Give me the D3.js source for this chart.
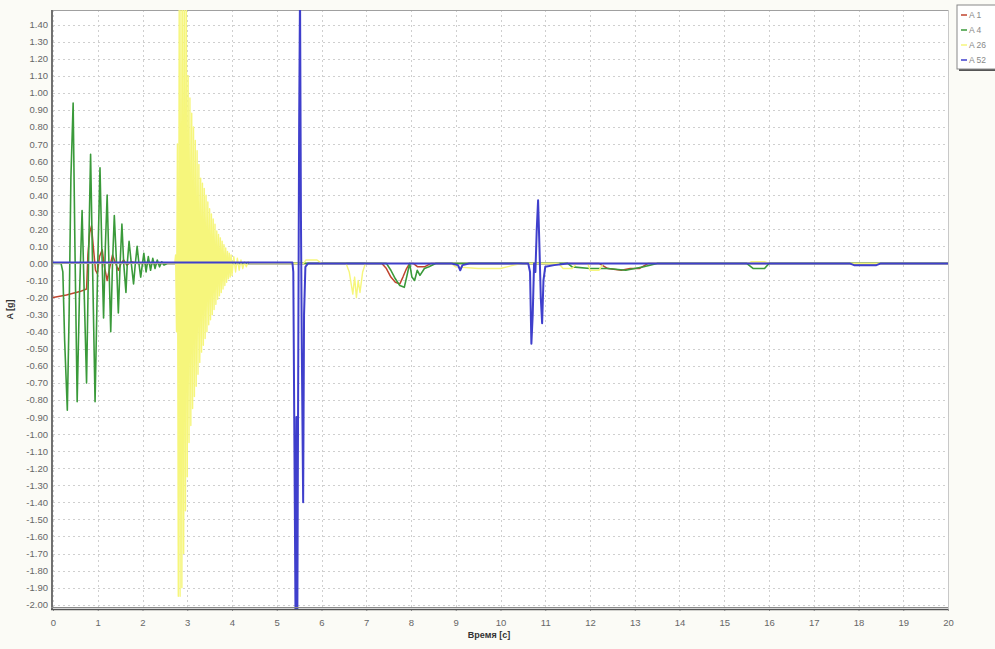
<!DOCTYPE html>
<html><head><meta charset="utf-8">
<script src="https://cdn.jsdelivr.net/npm/d3@7"></script>
<style>body{margin:0;background:#fbfbf6;} svg{display:block;font-family:"Liberation Sans",Arial,sans-serif;}</style>
</head><body><svg id="c" width="995" height="649"></svg>
<script>
// ---- data (time [s], acceleration [g]) ----
const seriesNames = ["A 1", "A 4", "A 26", "A 52"];
const xTicks = [0,1,2,3,4,5,6,7,8,9,10,11,12,13,14,15,16,17,18,19,20];
const yTicks = [1.4,1.3,1.2,1.1,1.0,0.9,0.8,0.7,0.6,0.5,0.4,0.3,0.2,0.1,0.0,-0.1,-0.2,-0.3,-0.4,-0.5,-0.6,-0.7,-0.8,-0.9,-1.0,-1.1,-1.2,-1.3,-1.4,-1.5,-1.6,-1.7,-1.8,-1.9,-2.0];

const a1 = [[0,-0.20],[0.3,-0.185],[0.6,-0.165],[0.75,-0.15],[0.78,0.05],[0.82,0.18],[0.86,0.22],[0.90,0.10],[0.95,-0.04],[0.99,-0.06],[1.04,0.04],[1.10,0.08],[1.15,-0.02],[1.21,-0.10],[1.27,-0.02],[1.33,0.05],[1.40,0.0],[1.46,-0.04],[1.52,0.0],[1.58,0.02],[1.65,-0.01],[1.75,0.01],[1.9,0],[7.35,0],[7.45,-0.03],[7.55,-0.08],[7.65,-0.11],[7.75,-0.12],[7.82,-0.08],[7.90,-0.03],[7.97,0.0],[8.05,0.0],[8.15,-0.02],[8.3,-0.02],[8.45,0],[12.2,0],[12.4,-0.03],[12.7,-0.04],[12.9,-0.03],[13.1,-0.03],[13.3,0],[20,0]];

const a4 = [[0,0],[0.18,0],[0.22,-0.05],[0.26,-0.45],[0.32,-0.86],[0.36,-0.3],[0.40,0.5],[0.45,0.94],[0.49,0.1],[0.54,-0.81],[0.59,-0.2],[0.65,0.31],[0.70,-0.2],[0.75,-0.70],[0.80,0.1],[0.84,0.64],[0.89,-0.1],[0.94,-0.81],[1.00,0.0],[1.05,0.56],[1.09,0.1],[1.13,-0.32],[1.17,0.1],[1.21,0.40],[1.25,0.0],[1.29,-0.40],[1.33,0.0],[1.37,0.28],[1.42,0.0],[1.46,-0.29],[1.50,0.0],[1.54,0.23],[1.58,0.0],[1.63,-0.17],[1.66,0.0],[1.70,0.13],[1.75,0.0],[1.80,-0.12],[1.84,0.0],[1.88,0.10],[1.92,0.0],[1.96,-0.08],[2.00,0.0],[2.03,0.06],[2.08,-0.05],[2.13,0.04],[2.18,-0.04],[2.23,0.03],[2.28,-0.03],[2.33,0.02],[2.38,-0.02],[2.43,0.01],[2.48,-0.01],[2.55,0.0],[7.45,0],[7.55,-0.04],[7.65,-0.09],[7.75,-0.13],[7.85,-0.14],[7.92,-0.06],[7.97,0.0],[8.02,-0.08],[8.08,-0.10],[8.14,-0.04],[8.2,-0.07],[8.3,-0.03],[8.4,-0.02],[8.55,0],[11.5,0],[11.6,-0.02],[12.0,-0.03],[12.4,-0.03],[12.8,-0.04],[13.2,-0.02],[13.5,0],[15.5,0],[15.65,-0.03],[15.9,-0.03],[16.0,0],[20,0]];

const a26 = [[0,0],[2.72,0],[2.74,0.05],[2.76,-0.4],[2.78,0.7],[2.80,-1.95],[2.82,1.55],[2.84,-1.95],[2.86,1.55],[2.88,-1.9],[2.90,1.55],[2.92,-1.7],[2.94,1.55],[2.96,-1.45],[2.98,1.5],[3.00,-1.25],[3.02,1.1],[3.04,-1.05],[3.06,0.97],[3.08,-0.95],[3.10,0.88],[3.12,-0.85],[3.14,0.80],[3.16,-0.78],[3.18,0.72],[3.20,-0.72],[3.22,0.66],[3.24,-0.65],[3.26,0.58],[3.28,-0.58],[3.30,0.50],[3.32,-0.52],[3.34,0.47],[3.36,-0.48],[3.38,0.44],[3.40,-0.44],[3.42,0.40],[3.44,-0.40],[3.46,0.36],[3.48,-0.36],[3.50,0.32],[3.52,-0.33],[3.54,0.29],[3.56,-0.30],[3.58,0.26],[3.60,-0.27],[3.62,0.23],[3.64,-0.24],[3.66,0.19],[3.68,-0.21],[3.70,0.17],[3.72,-0.19],[3.74,0.15],[3.76,-0.17],[3.78,0.13],[3.80,-0.15],[3.82,0.11],[3.84,-0.13],[3.86,0.09],[3.88,-0.11],[3.90,0.07],[3.92,-0.09],[3.94,0.06],[3.96,-0.08],[3.98,0.05],[4.00,-0.07],[4.04,0.04],[4.08,-0.05],[4.12,0.03],[4.16,-0.04],[4.20,0.02],[4.24,-0.03],[4.28,0.01],[4.32,-0.02],[4.36,0.01],[4.40,0.0],[5.6,0],[5.65,0.02],[5.9,0.02],[6.0,0],[6.55,0],[6.62,-0.05],[6.70,-0.18],[6.74,-0.08],[6.78,-0.2],[6.82,-0.1],[6.86,-0.17],[6.92,-0.05],[6.98,0],[8.9,0],[9.0,-0.02],[9.5,-0.03],[10.0,-0.03],[10.3,-0.01],[10.5,0],[11.3,0],[11.4,-0.03],[11.6,-0.03],[11.7,0],[11.95,0],[12.0,-0.04],[12.2,-0.04],[12.3,0],[15.55,0],[15.6,0.01],[15.9,0.01],[16.0,0],[20,0]];

const a52 = [[0,0.005],[5.35,0.005],[5.37,-0.05],[5.42,-2.1],[5.44,-0.9],[5.46,-2.1],[5.48,-0.6],[5.50,0.8],[5.52,1.6],[5.54,0.3],[5.56,-0.5],[5.59,-1.40],[5.61,-0.3],[5.64,-0.02],[5.7,0.0],[8.9,0],[9.05,-0.01],[9.1,-0.04],[9.15,-0.01],[9.3,0],[10.62,0],[10.66,-0.05],[10.69,-0.47],[10.72,-0.3],[10.75,0.0],[10.78,-0.05],[10.81,0.2],[10.84,0.37],[10.87,0.1],[10.90,-0.2],[10.93,-0.35],[10.96,-0.1],[11.0,-0.02],[11.2,-0.01],[11.5,0],[17.8,0],[17.9,-0.01],[18.4,-0.01],[18.5,0],[20,0]];

const seriesData = [a1, a4, a26, a52];
const seriesColors = ["#c0442e", "#3a9a3a", "#f6f67c", "#3f3fcc"];
const seriesWidths = [1.5, 1.6, 1.4, 2];

// ---- layout ----
const L = 53, R = 948, T = 10, B = 609;
const svg = d3.select("#c");
const x = d3.scaleLinear().domain([0, 20]).range([L, R]);
const y = d3.scaleLinear().domain([-2.025, 1.485]).range([B, T]);

svg.append("rect").attr("x", L).attr("y", T).attr("width", R - L).attr("height", B - T).attr("fill", "#ffffff");

// grid
const grid = svg.append("g");
grid.selectAll("line.h").data(yTicks).join("line").attr("class","h")
  .attr("x1", L).attr("x2", R).attr("y1", d => Math.round(y(d)) + 0.5).attr("y2", d => Math.round(y(d)) + 0.5)
  .attr("stroke", "#cfcfcf").attr("stroke-dasharray", "2,3").attr("stroke-width", 1);
grid.selectAll("line.v").data(xTicks).join("line").attr("class","v")
  .attr("y1", T).attr("y2", B).attr("x1", d => Math.round(x(d)) + 0.5).attr("x2", d => Math.round(x(d)) + 0.5)
  .attr("stroke", "#cfcfcf").attr("stroke-dasharray", "2,3").attr("stroke-width", 1);

// frame
svg.append("line").attr("x1", L).attr("x2", R).attr("y1", T + 0.5).attr("y2", T + 0.5).attr("stroke", "#a0a0a0");
svg.append("line").attr("x1", R + 0.5).attr("x2", R + 0.5).attr("y1", T).attr("y2", B).attr("stroke", "#c8c8c8");

// series
svg.append("clipPath").attr("id", "clip").append("rect").attr("x", L).attr("y", T).attr("width", R - L).attr("height", B - T);
const line = d3.line().x(d => x(d[0])).y(d => y(d[1]));
const sg = svg.append("g").attr("clip-path", "url(#clip)");
seriesData.forEach((s, i) => {
  sg.append("path").datum(s).attr("d", line).attr("fill", "none")
    .attr("stroke", seriesColors[i]).attr("stroke-width", seriesWidths[i]).attr("stroke-linejoin", "round");
});

// axes
const yAxis = d3.axisLeft(y).tickValues(yTicks).tickFormat(d => d.toFixed(2)).tickSize(2).tickPadding(3);
const gy = svg.append("g").attr("transform", `translate(${L},0)`).call(yAxis);
const xAxis = d3.axisBottom(x).tickValues(xTicks).tickFormat(d => String(d)).tickSize(2).tickPadding(8);
const gx = svg.append("g").attr("transform", `translate(0,${B})`).call(xAxis);
[gx, gy].forEach(g => {
  g.select(".domain").remove();
  g.selectAll(".tick line").attr("stroke", "#999");
  g.selectAll("text").attr("fill", "#666").style("font-size", "9.5px");
});

svg.append("line").attr("x1", L - 1).attr("x2", L - 1).attr("y1", T).attr("y2", B + 1).attr("stroke", "#707070").attr("stroke-width", 2);
svg.append("line").attr("x1", L - 2).attr("x2", R).attr("y1", B - 1.5).attr("y2", B - 1.5).attr("stroke", "#888").attr("stroke-width", 1);
svg.append("line").attr("x1", L - 2).attr("x2", R).attr("y1", B + 0.5).attr("y2", B + 0.5).attr("stroke", "#555").attr("stroke-width", 1.5);

// axis titles
svg.append("text").attr("transform", `translate(13,${(T + B) / 2}) rotate(-90)`).attr("text-anchor", "middle")
  .style("font-size", "9px").style("font-weight", "bold").attr("fill", "#333").text("A [g]");
svg.append("text").attr("x", 489).attr("y", 638).attr("text-anchor", "middle")
  .style("font-size", "9px").style("font-weight", "bold").attr("fill", "#333").text("Время [c]");

// legend
const lg = svg.append("g").attr("transform", "translate(957,5)");
lg.append("rect").attr("x", 2).attr("y", 2).attr("width", 45).attr("height", 64).attr("fill", "#555");
lg.append("rect").attr("x", 0).attr("y", 0).attr("width", 45).attr("height", 64).attr("fill", "#fff").attr("stroke", "#888");
seriesNames.forEach((n, i) => {
  const yy = 10 + i * 15;
  lg.append("line").attr("x1", 4).attr("x2", 10).attr("y1", yy).attr("y2", yy).attr("stroke", seriesColors[i]).attr("stroke-width", 1.5);
  lg.append("text").attr("x", 12).attr("y", yy + 3).style("font-size", "8.5px").attr("fill", "#888").text(n);
});
</script></body></html>
